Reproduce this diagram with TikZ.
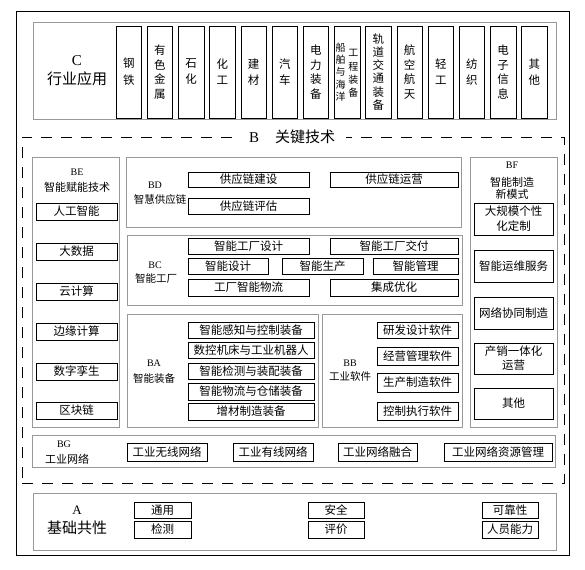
\documentclass[tikz,border=0pt]{standalone}
\usepackage{fontspec}
\setmainfont{Liberation Serif}
\newfontfamily\cjk{Noto Sans CJK SC}
\newcommand{\mybox}[7]{%
  \pgfmathsetmacro\mbw{#4-#2}\pgfmathsetmacro\mbh{#5-#3}%
  \pgfmathsetmacro\mbcx{(#2+#4)/2}\pgfmathsetmacro\mbcy{(#3+#5)/2}%
  \node[#6, minimum width=\mbw pt, minimum height=\mbh pt] (#1) at (\mbcx,-\mbcy) {#7};}
\begin{document}
\begin{tikzpicture}[x=1pt,y=1pt,
  every node/.style={inner sep=0pt, outer sep=0pt},
  frame/.style={draw=black, line width=0.9pt},
  grp/.style={draw=black!40, line width=0.6pt},
  dframe/.style={draw=black, line width=0.7pt, dash pattern=on 11pt off 9pt},
  item/.style={draw=black, line width=0.6pt, align=center, font=\cjk\fontsize{11.5}{14}\selectfont},
  colbox/.style={item, font=\cjk\fontsize{11.5}{14.5}\selectfont},
  lab/.style={align=center, font=\cjk\fontsize{11}{13}\selectfont},
  latlab/.style={font=\fontsize{10}{12}\selectfont},
  biglab/.style={font=\cjk\fontsize{15}{18}\selectfont}]
\useasboundingbox (0,0) rectangle (585,-569);
% containers
\mybox{outer}{16}{11}{569}{555}{frame}{}
\mybox{C}{33}{22}{556}{119}{grp}{}
\mybox{Bframe}{22}{137}{564}{483}{dframe}{}
\mybox{BE}{32}{157}{119}{427}{grp}{}
\mybox{BD}{126}{157}{461}{227}{grp}{}
\mybox{BC}{127}{235}{462}{305}{grp}{}
\mybox{BA}{127}{314}{318}{427}{grp}{}
\mybox{BB}{322}{314}{462}{427}{grp}{}
\mybox{BF}{470}{157}{557}{427}{grp}{}
\mybox{BG}{32}{435}{555}{467}{grp}{}
\mybox{A}{33}{493}{556}{550}{grp}{}
% B title
\node[fill=white, inner xsep=11pt, inner ysep=2pt] (Btitle) at (292,-137) {\fontsize{15}{18}\selectfont B\hspace{16pt}{\cjk 关键技术}};
% C section
\node[font=\fontsize{15}{18}\selectfont] (Cl1) at (77,-61) {C};
\node[biglab] (Cl2) at (77,-79) {行业应用};
\mybox{c1}{116.0}{26}{141.5}{118}{colbox, font=\cjk\fontsize{11.5}{17}\selectfont}{钢\\铁}
\mybox{c2}{147.2}{26}{172.7}{118}{colbox}{有\\色\\金\\属}
\mybox{c3}{178.4}{26}{203.9}{118}{colbox, font=\cjk\fontsize{11.5}{16}\selectfont}{石\\化}
\mybox{c4}{209.6}{26}{235.1}{118}{colbox, font=\cjk\fontsize{11.5}{16}\selectfont}{化\\工}
\mybox{c5}{240.8}{26}{266.3}{118}{colbox, font=\cjk\fontsize{11.5}{16}\selectfont}{建\\材}
\mybox{c6}{272.0}{26}{297.5}{118}{colbox, font=\cjk\fontsize{11.5}{16}\selectfont}{汽\\车}
\mybox{c7}{303.2}{26}{328.7}{118}{colbox}{电\\力\\装\\备}
\mybox{c8}{334.4}{26}{359.9}{118}{colbox}{}
\node[align=center, font=\cjk\fontsize{10}{12.4}\selectfont] (c8a) at (340.5,-72) {船\\舶\\与\\海\\洋};
\node[align=center, font=\cjk\fontsize{10}{13.2}\selectfont] (c8b) at (353.4,-73.5) {工\\程\\装\\备};
\mybox{c9}{365.6}{26}{391.1}{118}{colbox, font=\cjk\fontsize{11.5}{13.2}\selectfont}{轨\\道\\交\\通\\装\\备}
\mybox{c10}{396.8}{26}{422.3}{118}{colbox}{航\\空\\航\\天}
\mybox{c11}{428.0}{26}{453.5}{118}{colbox, font=\cjk\fontsize{11.5}{16}\selectfont}{轻\\工}
\mybox{c12}{459.2}{26}{484.7}{118}{colbox, font=\cjk\fontsize{11.5}{16}\selectfont}{纺\\织}
\mybox{c13}{490.4}{26}{515.9}{118}{colbox}{电\\子\\信\\息}
\mybox{c14}{521.6}{26}{547.1}{118}{colbox, font=\cjk\fontsize{11.5}{16}\selectfont}{其\\他}
% BE
\node[latlab] (BEl1) at (77,-172) {BE};
\node[lab] (BEl2) at (77,-187) {智能赋能技术};
\mybox{be1}{36}{203}{117}{220}{item}{人工智能}
\mybox{be2}{36}{243}{117}{260}{item}{大数据}
\mybox{be3}{36}{283}{117}{300}{item}{云计算}
\mybox{be4}{36}{323}{117}{340}{item}{边缘计算}
\mybox{be5}{36}{363}{117}{380}{item}{数字孪生}
\mybox{be6}{36}{402}{117}{419}{item}{区块链}
% BD
\node[latlab] (BDl1) at (155,-185) {BD};
\node[lab, font=\cjk\fontsize{10.5}{13}\selectfont] (BDl2) at (160,-200) {智慧供应链};
\mybox{bd1}{188}{172}{309}{187}{item}{供应链建设}
\mybox{bd2}{330}{172}{458}{187}{item}{供应链运营}
\mybox{bd3}{188}{198}{309}{214}{item}{供应链评估}
% BC
\node[latlab] (BCl1) at (155,-265) {BC};
\node[lab, font=\cjk\fontsize{10.5}{13}\selectfont] (BCl2) at (156,-278) {智能工厂};
\mybox{bc1}{188}{238}{309}{254}{item}{智能工厂设计}
\mybox{bc2}{330}{238}{458}{254}{item}{智能工厂交付}
\mybox{bc3}{188}{258}{268}{274}{item}{智能设计}
\mybox{bc4}{282}{258}{363}{274}{item}{智能生产}
\mybox{bc5}{373}{258}{458}{274}{item}{智能管理}
\mybox{bc6}{188}{279}{309}{296}{item}{工厂智能物流}
\mybox{bc7}{330}{279}{458}{296}{item}{集成优化}
% BA
\node[latlab] (BAl1) at (154,-363) {BA};
\node[lab, font=\cjk\fontsize{10.5}{13}\selectfont] (BAl2) at (154,-379) {智能装备};
\mybox{ba1}{188}{322}{314}{338}{item}{智能感知与控制装备}
\mybox{ba2}{188}{342}{314}{358}{item}{数控机床与工业机器人}
\mybox{ba3}{188}{363}{314}{379}{item}{智能检测与装配装备}
\mybox{ba4}{188}{383}{314}{400}{item}{智能物流与仓储装备}
\mybox{ba5}{188}{403}{314}{420}{item}{增材制造装备}
% BB
\node[latlab] (BBl1) at (350,-363) {BB};
\node[lab, font=\cjk\fontsize{10.5}{13}\selectfont] (BBl2) at (350,-377) {工业软件};
\mybox{bb1}{377}{322}{458}{338}{item}{研发设计软件}
\mybox{bb2}{377}{347}{458}{365}{item}{经营管理软件}
\mybox{bb3}{377}{373}{458}{392}{item}{生产制造软件}
\mybox{bb4}{377}{402}{458}{420}{item}{控制执行软件}
% BF
\node[latlab] (BFl1) at (512,-165) {BF};
\node[lab, font=\cjk\fontsize{11}{12}\selectfont] (BFl2) at (512,-188) {智能制造\\新模式};
\mybox{bf1}{474}{203}{553}{235}{item, font=\cjk\fontsize{11.5}{15}\selectfont}{大规模个性\\化定制}
\mybox{bf2}{474}{250}{553}{282}{item}{智能运维服务}
\mybox{bf3}{474}{297}{553}{329}{item}{网络协同制造}
\mybox{bf4}{474}{343}{553}{374}{item, font=\cjk\fontsize{11.5}{14}\selectfont}{产销一体化\\运营}
\mybox{bf5}{474}{388}{553}{419}{item}{其他}
% BG
\node[latlab] (BGl1) at (64,-444) {BG};
\node[lab] (BGl2) at (67,-459) {工业网络};
\mybox{bg1}{127}{443}{207}{461}{item}{工业无线网络}
\mybox{bg2}{233}{443}{313}{461}{item}{工业有线网络}
\mybox{bg3}{338}{443}{417}{461}{item}{工业网络融合}
\mybox{bg4}{444}{443}{552}{461}{item}{工业网络资源管理}
% A
\node[font=\fontsize{13}{15}\selectfont] (Al1) at (77,-510) {A};
\node[biglab] (Al2) at (77,-528) {基础共性};
\mybox{a1}{134}{502}{191}{518}{item}{通用}
\mybox{a2}{134}{521}{191}{538}{item}{检测}
\mybox{a3}{308}{502}{364}{518}{item}{安全}
\mybox{a4}{308}{521}{364}{538}{item}{评价}
\mybox{a5}{482}{502}{538}{518}{item}{可靠性}
\mybox{a6}{482}{521}{538}{538}{item}{人员能力}
\end{tikzpicture}
\end{document}
